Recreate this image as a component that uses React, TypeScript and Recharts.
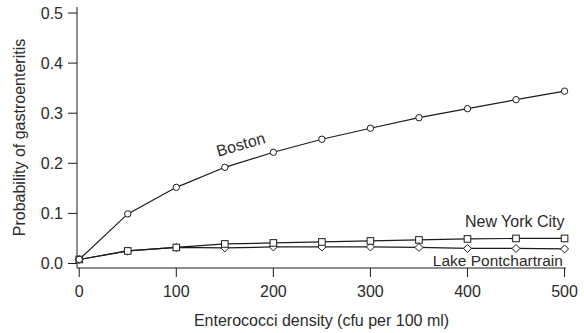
import { Label, Line, LineChart, ReferenceDot, XAxis, YAxis } from 'recharts';

const densities = [0, 50, 100, 150, 200, 250, 300, 350, 400, 450, 500];
const boston = [0.008, 0.099, 0.152, 0.192, 0.222, 0.248, 0.27, 0.291, 0.309, 0.327, 0.344];
const newYork = [0.008, 0.025, 0.032, 0.039, 0.041, 0.043, 0.045, 0.047, 0.049, 0.05, 0.05];
const pontchartrain = [0.008, 0.025, 0.032, 0.031, 0.033, 0.033, 0.033, 0.032, 0.03, 0.03, 0.029];
const xTicks = [0, 100, 200, 300, 400, 500];
const yTicks = [0, 0.1, 0.2, 0.3, 0.4, 0.5];

const data = densities.map((density, i) => ({
  density,
  boston: boston[i],
  newYork: newYork[i],
  pontchartrain: pontchartrain[i],
}));

const INK = '#1c1c1c';
const TEXT = '#2b2b2b';
const FONT = '"Liberation Sans", Arial, Helvetica, sans-serif';

const circleDot = (p: any) => (
  <circle key={`c${p.index}`} cx={p.cx} cy={p.cy} r={3.2} fill="#fff" stroke={INK} strokeWidth={1} />
);
const squareDot = (p: any) => (
  <rect key={`s${p.index}`} x={p.cx - 3.3} y={p.cy - 3.3} width={6.6} height={6.6} fill="#fff" stroke={INK} strokeWidth={1} />
);
const diamondDot = (p: any) => (
  <path
    key={`d${p.index}`}
    d={`M${p.cx},${p.cy - 4}L${p.cx + 4},${p.cy}L${p.cx},${p.cy + 4}L${p.cx - 4},${p.cy}Z`}
    fill="#fff"
    stroke={INK}
    strokeWidth={1}
  />
);

// text anchored at a data point (baseline at the point)
const tag = (text: string, anchor: 'start' | 'middle' | 'end', angle = 0, size = 16) => (props: any) => {
  const { x, y } = props.viewBox;
  return (
    <text
      x={x}
      y={y}
      textAnchor={anchor}
      fontSize={size}
      fontFamily={FONT}
      fill={TEXT}
      transform={angle ? `rotate(${angle}, ${x}, ${y})` : undefined}
    >
      {text}
    </text>
  );
};

const YTitle = (props: any) => {
  const { x, y, height } = props.viewBox;
  const cx = x + 8;
  const cy = y + height / 2;
  return (
    <text x={cx} y={cy} textAnchor="middle" fontSize={16} fontFamily={FONT} fill={TEXT} transform={`rotate(-90, ${cx}, ${cy})`}>
      Probability of gastroenteritis
    </text>
  );
};

const XTitle = (props: any) => {
  const { x, y, width } = props.viewBox;
  return (
    <text x={x + width / 2} y={y + 58} textAnchor="middle" fontSize={16} fontFamily={FONT} fill={TEXT}>
      Enterococci density (cfu per 100 ml)
    </text>
  );
};

export default function App() {
  return (
    <div style={{ position: 'absolute', left: 0, top: 0 }}>
      <LineChart width={584} height={333} data={data} margin={{ top: 7, right: 18, bottom: 5, left: 17 }}>
        <XAxis
          dataKey="density"
          type="number"
          domain={[-2.3, 501.5]}
          ticks={xTicks}
          height={60}
          stroke={INK}
          tickSize={9}
          tickMargin={9}
          tick={{ fill: TEXT, fontSize: 16, fontFamily: FONT }}
        >
          <Label content={XTitle} />
        </XAxis>
        <YAxis
          type="number"
          domain={[-0.009, 0.512]}
          ticks={yTicks}
          width={60}
          stroke={INK}
          tickSize={9}
          tickMargin={5}
          tickFormatter={(v) => v.toFixed(1)}
          tick={{ fill: TEXT, fontSize: 16, fontFamily: FONT }}
        >
          <Label content={YTitle} />
        </YAxis>
        <Line type="linear" dataKey="pontchartrain" stroke={INK} strokeWidth={1.2} dot={diamondDot} isAnimationActive={false} />
        <Line type="linear" dataKey="newYork" stroke={INK} strokeWidth={1.2} dot={squareDot} isAnimationActive={false} />
        <Line type="linear" dataKey="boston" stroke={INK} strokeWidth={1.2} dot={circleDot} isAnimationActive={false} />
        <ReferenceDot x={168} y={0.227} r={0} fill="none" stroke="none" label={{ content: tag('Boston', 'middle', -16) }} />
        <ReferenceDot x={500} y={0.0735} r={0} fill="none" stroke="none" label={{ content: tag('New York City', 'end') }} />
        <ReferenceDot x={498.3} y={-0.005} r={0} fill="none" stroke="none" label={{ content: tag('Lake Pontchartrain', 'end', 0, 15.5) }} />
      </LineChart>
    </div>
  );
}
